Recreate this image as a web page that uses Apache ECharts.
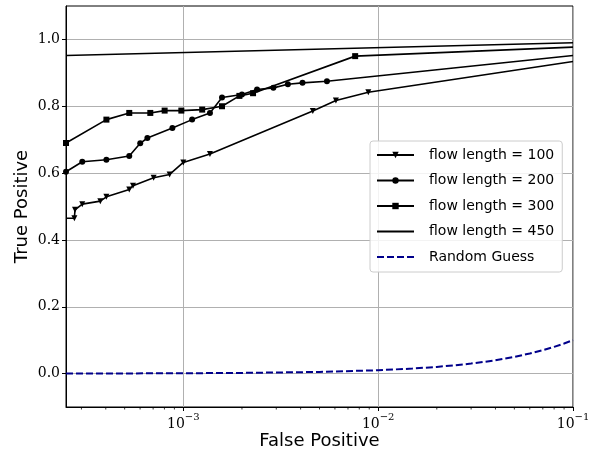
<!DOCTYPE html>
<html><head><meta charset="utf-8">
<script src="https://cdn.jsdelivr.net/npm/echarts@6/dist/echarts.min.js"></script>
<style>html,body{margin:0;padding:0;background:#fff}#c{width:593px;height:455px}</style>
</head><body><div id="c"></div>
<script>
// ---- data ----
const flow100 = [[2.5e-4,0.465],[2.76e-4,0.465],[2.78e-4,0.490],[3.03e-4,0.507],[3.75e-4,0.516],[4.03e-4,0.529],[5.28e-4,0.551],[5.52e-4,0.562],[7.04e-4,0.586],[8.51e-4,0.596],[1.0e-3,0.632],[1.37e-3,0.657],[4.62e-3,0.786],[6.07e-3,0.817],[8.9e-3,0.842],[0.1,0.934]];
const flow200 = [[2.5e-4,0.604],[3.03e-4,0.634],[4.03e-4,0.640],[5.28e-4,0.651],[6.01e-4,0.689],[6.54e-4,0.705],[8.79e-4,0.735],[1.11e-3,0.760],[1.37e-3,0.780],[1.58e-3,0.826],[2.0e-3,0.835],[2.39e-3,0.850],[2.9e-3,0.855],[3.44e-3,0.866],[4.09e-3,0.870],[5.46e-3,0.875],[0.1,0.952]];
const flow300 = [[2.5e-4,0.690],[4.03e-4,0.760],[5.28e-4,0.780],[6.77e-4,0.780],[8.02e-4,0.787],[9.77e-4,0.787],[1.25e-3,0.790],[1.58e-3,0.800],[1.94e-3,0.831],[2.28e-3,0.839],[7.62e-3,0.950],[0.1,0.977]];
const flow450 = [[2.5e-4,0.952],[0.1,0.990]];
const randomGuess = [[2.5e-4,2.5e-4],[5e-4,5e-4],[1e-3,1e-3],[2e-3,2e-3],[5e-3,5e-3],[1e-2,1e-2],[0.015,0.015],[0.02,0.02],[0.025,0.025],[0.03,0.03],[0.035,0.035],[0.04,0.04],[0.05,0.05],[0.06,0.06],[0.07,0.07],[0.08,0.08],[0.09,0.09],[0.1,0.1]];
const seriesNames = ['flow length = 100','flow length = 200','flow length = 300','flow length = 450','Random Guess'];
const xMajorTicks = [0.001, 0.01, 0.1];
const xMinorTicks = [3e-4,4e-4,5e-4,6e-4,7e-4,8e-4,9e-4,2e-3,3e-3,4e-3,5e-3,6e-3,7e-3,8e-3,9e-3,0.02,0.03,0.04,0.05,0.06,0.07,0.08,0.09];
const yTicks = [0, 0.2, 0.4, 0.6, 0.8, 1.0];
const xRange = [2.5e-4, 0.1];
const yRange = [-0.1, 1.1];

const chart = echarts.init(document.getElementById('c'), null, {renderer:'canvas'});
const serif = 'DejaVu Serif', sans = 'DejaVu Sans';
// points lying on the plot edge where the curve merely leaves the view carry no marker
function withHidden(data, hideFirst) {
  return data.map((p, i) => ((i === data.length - 1) || (hideFirst && i === 0)) ? {value:p, symbol:'none'} : p);
}
function lineSeries(name, data, symbol, extra) {
  return Object.assign({
    type:'line', name, data, symbol, symbolSize:6, showSymbol: symbol !== 'none',
    lineStyle:{color:'#000', width:1.6}, itemStyle:{color:'#000'},
    clip:true, z:3
  }, extra||{});
}
chart.setOption({
  animation:false,
  grid:{left:66, right:20, top:6, bottom:48, containLabel:false, outerBoundsMode:'none',
        show:true, borderColor:'#000', borderWidth:1, backgroundColor:'transparent'},
  xAxis:{
    type:'log', logBase:10, min:xRange[0], max:xRange[1],
    name:'False Positive', nameLocation:'middle', nameGap:25, nameMoveOverlap:false,
    nameTextStyle:{fontFamily:sans, fontSize:18, color:'#000', verticalAlign:'top'},
    axisLine:{show:true, onZero:false, lineStyle:{color:'#000', width:1}},
    axisTick:{show:true, inside:false, length:4, customValues:xMajorTicks, lineStyle:{color:'#000', width:1}},
    axisLabel:{customValues:xMajorTicks, margin:5, formatter:v => '{b|10}{s|\u2212' + Math.round(-Math.log10(v)) + '}',
      rich:{b:{fontFamily:serif, fontSize:14, color:'#000', padding:[5,0,0,0]}, s:{fontFamily:serif, fontSize:10, color:'#000', verticalAlign:'top'}}},
    splitLine:{show:true, lineStyle:{color:'#b0b0b0', width:1}},
    minorTick:{show:false}
  },
  yAxis:{
    type:'value', min:yRange[0], max:yRange[1],
    name:'True Positive', nameLocation:'middle', nameGap:35, nameRotate:90, nameMoveOverlap:false,
    nameTextStyle:{fontFamily:sans, fontSize:18, color:'#000'},
    axisLine:{show:true, onZero:false, lineStyle:{color:'#000', width:1}},
    axisTick:{show:true, inside:false, length:4, customValues:yTicks, lineStyle:{color:'#000', width:1}},
    axisLabel:{customValues:yTicks, margin:6, fontFamily:serif, fontSize:14, color:'#000', formatter:v => v.toFixed(1)},
    splitLine:{show:true, lineStyle:{color:'#b0b0b0', width:1}}
  },
  legend:{
    data:[
      {name:seriesNames[0]},{name:seriesNames[1]},{name:seriesNames[2]},
      {name:seriesNames[3], itemStyle:{opacity:0}},
      {name:seriesNames[4], itemStyle:{opacity:0}}
    ],
    orient:'vertical', left:370, top:141,
    padding:[6,8,7,6], itemWidth:37, itemHeight:8, itemGap:9.5,
    backgroundColor:'rgba(255,255,255,0.85)', borderColor:'#cccccc', borderWidth:1, borderRadius:3,
    textStyle:{fontFamily:sans, fontSize:14, color:'#000', lineHeight:16, padding:[0,0,0,10]}
  },
  series:[
    lineSeries(seriesNames[0], withHidden(flow100, true), 'triangle', {symbolRotate:180}),
    lineSeries(seriesNames[1], withHidden(flow200, false), 'circle'),
    lineSeries(seriesNames[2], withHidden(flow300, false), 'rect'),
    lineSeries(seriesNames[3], flow450, 'none'),
    {type:'line', name:seriesNames[4], data:randomGuess, symbol:'none', showSymbol:false,
     lineStyle:{color:'#00008b', width:2, type:[7,3]}, itemStyle:{color:'#00008b'}, z:3},
    {type:'custom', name:'minorTicks', silent:true, clip:false, z:5,
     data:xMinorTicks.map(v => [v, yRange[0]]),
     renderItem:(params, api) => {
       const p = api.coord([api.value(0), api.value(1)]);
       return {type:'line', shape:{x1:p[0], y1:p[1], x2:p[0], y2:p[1]+2.5}, style:{stroke:'#000', lineWidth:0.8}};
     }}
  ]
});
</script></body></html>
